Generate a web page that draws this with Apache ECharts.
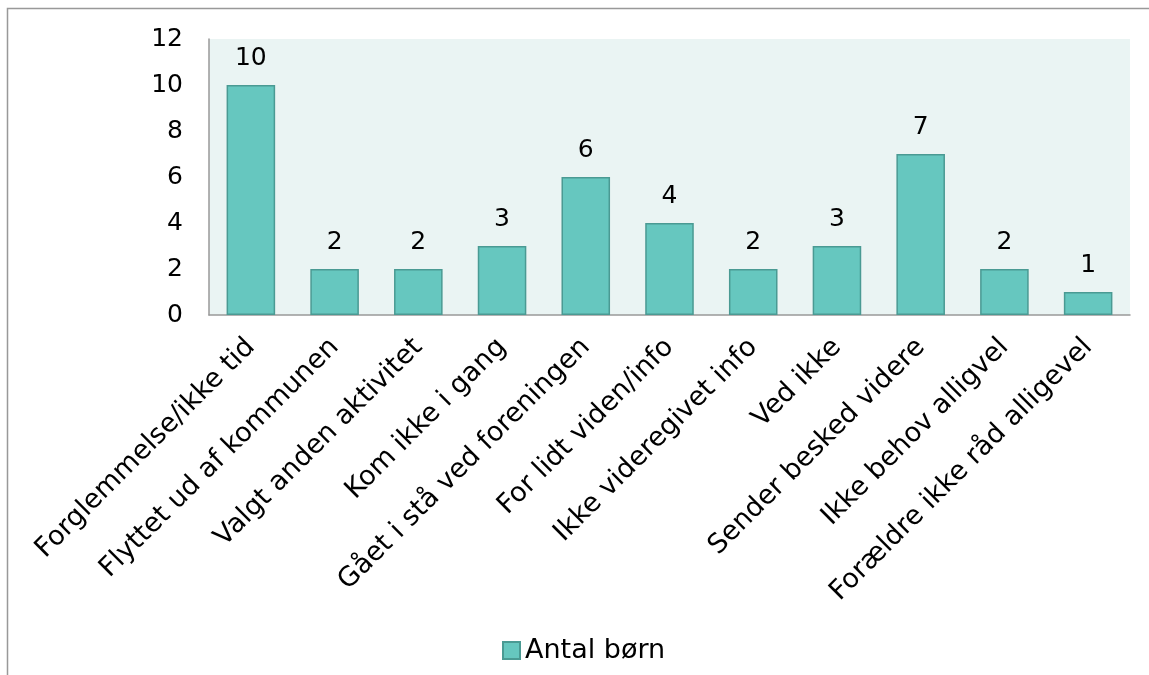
<!DOCTYPE html>
<html>
<head>
<meta charset="utf-8">
<script src="https://cdn.jsdelivr.net/npm/echarts@6/dist/echarts.min.js"></script>
<style>
html,body{margin:0;padding:0;background:#fff;}
#chart{width:1149px;height:675px;}
</style>
</head>
<body>
<div id="chart"></div>
<script>
const categories = [
  "Forglemmelse/ikke tid",
  "Flyttet ud af kommunen",
  "Valgt anden aktivitet",
  "Kom ikke i gang",
  "Gået i stå ved foreningen",
  "For lidt viden/info",
  "Ikke videregivet info",
  "Ved ikke",
  "Sender besked videre",
  "Ikke behov alligvel",
  "Forældre ikke råd alligevel"
];
const antalBoern = [10, 2, 2, 3, 6, 4, 2, 3, 7, 2, 1];
const seriesName = "Antal børn";
const yTicks = [0, 2, 4, 6, 8, 10, 12];

const font = "'DejaVu Sans', Verdana, sans-serif";
const chart = echarts.init(document.getElementById('chart'));
chart.setOption({
  animation: false,
  textStyle: {fontFamily: font},
  graphic: [{
    type: 'rect',
    shape: {x: 7.5, y: 8.5, width: 1160, height: 700},
    style: {fill: 'none', stroke: '#999999', lineWidth: 1.5},
    z: -10
  }],
  grid: {left: 209, right: 19, top: 39, bottom: 360, show: true, backgroundColor: '#EAF4F3', borderWidth: 0},
  legend: {
    top: 632, left: 497,
    itemWidth: 17, itemHeight: 17,
    itemGap: 6,
    textStyle: {fontFamily: font, fontSize: 27, color: '#000'},
    data: [{name: seriesName, icon: 'rect'}]
  },
  xAxis: {
    type: 'category',
    data: categories,
    axisLine: {lineStyle: {color: '#999999', width: 1.5}},
    axisTick: {show: false},
    axisLabel: {rotate: 45, interval: 0, fontSize: 27, color: '#000', fontFamily: font, margin: 28}
  },
  yAxis: {
    type: 'value',
    min: yTicks[0], max: yTicks[yTicks.length - 1], interval: 2,
    axisLine: {show: true, lineStyle: {color: '#999999', width: 1.5}},
    axisTick: {show: false},
    splitLine: {show: false},
    axisLabel: {fontSize: 25, color: '#000', fontFamily: font, margin: 26, padding: [9, 0, 0, 0]}
  },
  series: [{
    name: seriesName,
    type: 'bar',
    data: antalBoern,
    barWidth: '58%',
    itemStyle: {color: '#66C7BF', borderColor: '#4A9A93', borderWidth: 1.5},
    label: {show: true, position: 'top', distance: 14, fontSize: 25, color: '#000', fontFamily: font}
  }]
});
</script>
</body>
</html>
